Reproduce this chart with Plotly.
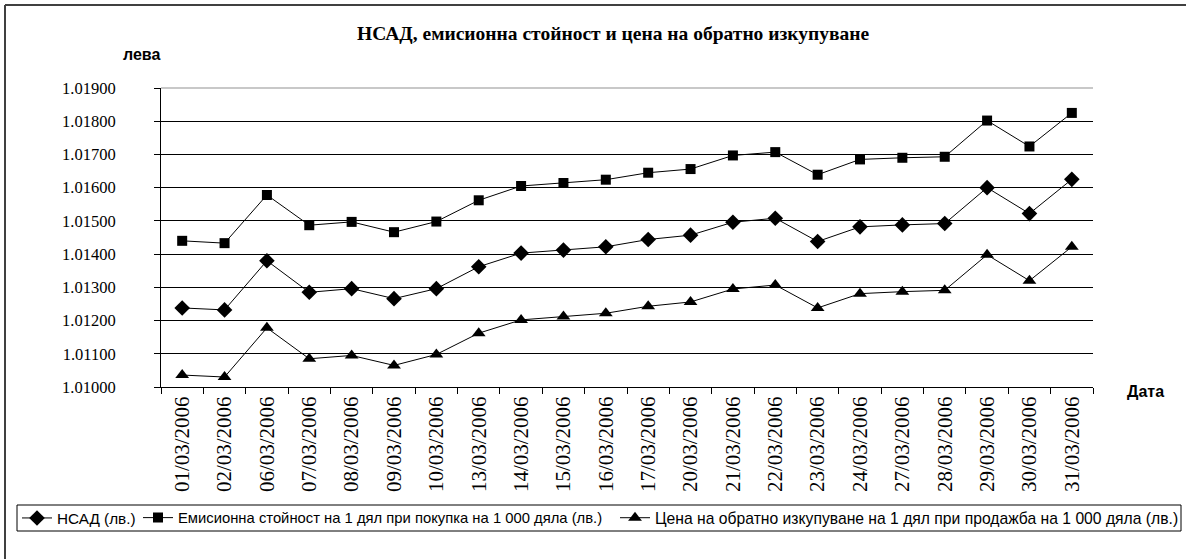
import plotly.graph_objects as go

dates = ["01/03/2006", "02/03/2006", "06/03/2006", "07/03/2006", "08/03/2006",
         "09/03/2006", "10/03/2006", "13/03/2006", "14/03/2006", "15/03/2006",
         "16/03/2006", "17/03/2006", "20/03/2006", "21/03/2006", "22/03/2006",
         "23/03/2006", "24/03/2006", "27/03/2006", "28/03/2006", "29/03/2006",
         "30/03/2006", "31/03/2006"]

nsad = [1.01238, 1.01232, 1.01380, 1.01285, 1.01296, 1.01266, 1.01296, 1.01362,
        1.01403, 1.01412, 1.01422, 1.01444, 1.01457, 1.01496, 1.01508, 1.01438,
        1.01482, 1.01488, 1.01492, 1.01600, 1.01522, 1.01625]

emission = [1.01440, 1.01433, 1.01578, 1.01487, 1.01497, 1.01466, 1.01498, 1.01562,
            1.01605, 1.01614, 1.01624, 1.01645, 1.01656, 1.01697, 1.01707, 1.01639,
            1.01685, 1.01690, 1.01693, 1.01802, 1.01724, 1.01825]

redemption = [1.01036, 1.01030, 1.01178, 1.01085, 1.01095, 1.01065, 1.01098, 1.01162,
              1.01202, 1.01212, 1.01222, 1.01243, 1.01256, 1.01295, 1.01307, 1.01238,
              1.01281, 1.01287, 1.01291, 1.01398, 1.01320, 1.01422]

y_ticks = [1.010, 1.011, 1.012, 1.013, 1.014, 1.015, 1.016, 1.017, 1.018, 1.019]

names = ["НСАД (лв.)",
         "Емисионна стойност на 1 дял при покупка на 1 000 дяла (лв.)",
         "Цена на обратно изкупуване на 1 дял при продажба на 1 000 дяла (лв.)"]

W, H = 1186, 559
L, R, T, B = 161, 1093, 88, 387


def px(x):
    return (x - L) / (R - L)


def py(y):
    return (B - y) / (B - T)


series = [(nsad, "diamond", 12), (emission, "square", 10), (redemption, "triangle-up", 12)]
legend_ids = ["legend", "legend2", "legend3"]
legend_left = [17, 138, 615]
legend_font = [15.3, 14.8, 15.7]

fig = go.Figure()
for (vals, sym, size), name, lid in zip(series, names, legend_ids):
    fig.add_trace(go.Scatter(x=dates, y=vals, name=name, mode="lines+markers",
                             legend=lid,
                             line=dict(color="black", width=1),
                             marker=dict(symbol=sym, size=size, color="black")))

serif = "Liberation Serif, Times New Roman, serif"
sans = "Liberation Sans, Arial, sans-serif"

legends = {lid: dict(x=px(xl), y=py(518), orientation="h", xanchor="left",
                     yanchor="middle", borderwidth=0, bgcolor="rgba(0,0,0,0)",
                     font=dict(family=sans, size=fs, color="black"),
                     itemwidth=30, tracegroupgap=0)
           for lid, xl, fs in zip(legend_ids, legend_left, legend_font)}

fig.update_layout(
    width=W, height=H,
    margin=dict(l=L, r=W - R, t=T, b=H - B, pad=0, autoexpand=False),
    paper_bgcolor="white", plot_bgcolor="white",
    showlegend=True,
    **legends,
    xaxis=dict(type="category", tickson="boundaries", ticks="outside", ticklen=6,
               tickcolor="black", showline=True, linecolor="black", linewidth=1,
               showgrid=False, tickangle=-90, automargin=False,
               tickfont=dict(family=serif, size=21, color="black"),
               range=[-0.5, len(dates) - 0.5]),
    yaxis=dict(range=[y_ticks[0], y_ticks[-1]], tickvals=y_ticks,
               tickformat=".5f", ticks="outside", ticklen=6, tickcolor="black",
               showline=True, linecolor="black", linewidth=1,
               showgrid=True, gridcolor="black", gridwidth=1,
               ticklabelstandoff=35, automargin=False,
               tickfont=dict(family=serif, size=16.5, color="black"), zeroline=False),
    annotations=[
        dict(text="<b>НСАД, емисионна стойност и цена на обратно изкупуване</b>",
             xref="paper", yref="paper", x=px(613), y=py(34), showarrow=False,
             xanchor="center", yanchor="middle",
             font=dict(family=serif, size=19.5, color="black")),
        dict(text="<b>лева</b>", xref="paper", yref="paper", x=px(141), y=py(54),
             showarrow=False, xanchor="center", yanchor="middle",
             font=dict(family=sans, size=16, color="black")),
        dict(text="<b>Дата</b>", xref="paper", yref="paper", x=px(1125), y=py(391),
             showarrow=False, xanchor="left", yanchor="middle",
             font=dict(family=sans, size=16, color="black")),
    ],
    shapes=[
        dict(type="line", xref="paper", yref="paper", x0=0, x1=1, y0=1, y1=1,
             line=dict(color="#c8c8c8", width=2), layer="above"),
        dict(type="line", xref="paper", yref="paper", x0=px(5), x1=px(W + 5),
             y0=py(5), y1=py(5), line=dict(color="#404040", width=2), layer="above"),
        dict(type="line", xref="paper", yref="paper", x0=px(5), x1=px(5),
             y0=py(5), y1=py(H + 5), line=dict(color="#404040", width=2), layer="above"),
        dict(type="rect", xref="paper", yref="paper", x0=px(17), x1=px(1181),
             y0=py(505), y1=py(531), line=dict(color="black", width=1),
             fillcolor="rgba(0,0,0,0)", layer="above"),
    ],
)

fig.write_html("out.html", config={"displayModeBar": False},
               post_script="document.body.style.margin='0px';"
                           "document.body.style.overflow='hidden';")
